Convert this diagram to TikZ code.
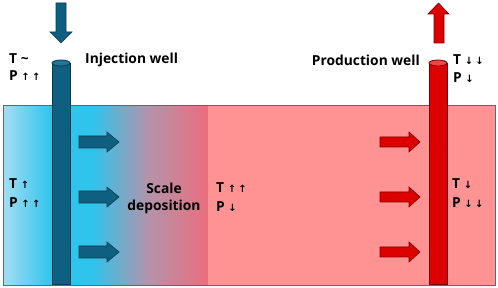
\documentclass[tikz,border=0pt]{standalone}
\usepackage{fontspec}
\setmainfont{Open Sans}
\newfontfamily\arrfont{DejaVu Sans}
\newcommand\myup{{\arrfont\bfseries\fontsize{10}{10}\selectfont ↑}}
\newcommand\mydn{{\arrfont\bfseries\fontsize{10}{10}\selectfont ↓}}
\definecolor{lightblue}{HTML}{A4DEF3}
\definecolor{cyanw}{HTML}{2EC4EC}
\definecolor{midmix}{HTML}{B592AA}
\definecolor{darkpink}{HTML}{EA6E7E}
\definecolor{pinkw}{HTML}{FF9393}
\definecolor{wellblue}{HTML}{0F5F80}
\definecolor{wellbluetop}{HTML}{1F7596}
\definecolor{wellbluedark}{HTML}{0A3A50}
\definecolor{wellred}{HTML}{DD0000}
\definecolor{wellredtop}{HTML}{EE4545}
\definecolor{wellreddark}{HTML}{7A0000}
\begin{document}
\begin{tikzpicture}[x=1pt,y=-1pt,
  lbl/.style={font=\bfseries\fontsize{13.8}{16}\selectfont, inner sep=0pt, anchor=west, text=black},
  clbl/.style={font=\bfseries\fontsize{13.8}{16}\selectfont, inner sep=0pt, anchor=center, text=black},
  bluearr/.style={fill=wellblue, draw=wellbluedark, line width=0.6pt, line join=miter},
  redarr/.style={fill=wellred, draw=wellreddark, line width=0.6pt, line join=miter},
  bluewell/.style={fill=wellblue, draw=wellbluedark, line width=0.8pt},
  redwell/.style={fill=wellred, draw=wellreddark, line width=0.8pt}]
\useasboundingbox (0,0) rectangle (498,288);
% reservoir fill
\foreach \i in {0,...,49}{
  \pgfmathsetmacro\p{100*\i/49}
  \fill[cyanw!\p!lightblue] (3+\i,105) rectangle (4.3+\i,285);
}
\fill[cyanw] (52,105) rectangle (92.5,285);
\foreach \i in {0,...,57}{
  \pgfmathsetmacro\p{100*\i/57}
  \fill[midmix!\p!cyanw] (92+\i,105) rectangle (93.3+\i,285);
}
\foreach \i in {0,...,57}{
  \pgfmathsetmacro\p{100*\i/57}
  \fill[darkpink!\p!midmix] (150+\i,105) rectangle (151.3+\i,285);
}
\fill[pinkw] (207.5,105) rectangle (495,285);
\draw[black!60, line width=0.9pt] (3,105) rectangle (495,285);
% injection well
\draw[bluewell] (52,63) -- (52,284) -- (70,284) -- (70,63) -- cycle;
\draw[fill=wellbluetop, draw=wellbluedark, line width=0.8pt] (61,63) ellipse [x radius=9pt, y radius=3pt];
% production well
\draw[redwell] (429,63) -- (429,284) -- (447,284) -- (447,63) -- cycle;
\draw[fill=wellredtop, draw=wellreddark, line width=0.8pt] (438,63) ellipse [x radius=9pt, y radius=3pt];
% vertical arrows
\draw[bluearr] (56,3) -- (66,3) -- (66,32) -- (72,32) -- (61,43) -- (50,32) -- (56,32) -- cycle;
\draw[redarr] (434,43) -- (444,43) -- (444,14) -- (449,14) -- (438.5,3) -- (428,14) -- (434,14) -- cycle;
% horizontal arrows
\foreach \yy in {142,197,252}{
  \draw[bluearr] (79,\yy-6) -- (107,\yy-6) -- (107,\yy-10) -- (119,\yy) -- (107,\yy+10) -- (107,\yy+6) -- (79,\yy+6) -- cycle;
  \draw[redarr] (380,\yy-5) -- (409,\yy-5) -- (409,\yy-10) -- (420,\yy) -- (409,\yy+10) -- (409,\yy+5) -- (380,\yy+5) -- cycle;
}
% labels
\node[lbl] (injT) at (9,59) {T {\textasciitilde}};
\node[lbl] (injP) at (9,76) {P \myup\,\myup};
\node[lbl] (inj) at (85,60) {Injection well};
\node[lbl, anchor=east] (prod) at (420,60) {Production well};
\node[lbl] (prodT) at (453,60) {T \mydn\,\mydn};
\node[lbl] (prodP) at (453,78) {P \mydn};
\node[lbl] (lT) at (9,184) {T \myup};
\node[lbl] (lP) at (9,203) {P \myup\,\myup};
\node[clbl] (sc1) at (164,188) {Scale};
\node[clbl] (sc2) at (164,207) {deposition};
\node[lbl] (mT) at (216,188) {T \myup\,\myup};
\node[lbl] (mP) at (216,207) {P \mydn};
\node[lbl] (rT) at (452,184) {T \mydn};
\node[lbl] (rP) at (452,203) {P \mydn\,\mydn};
\end{tikzpicture}
\end{document}
